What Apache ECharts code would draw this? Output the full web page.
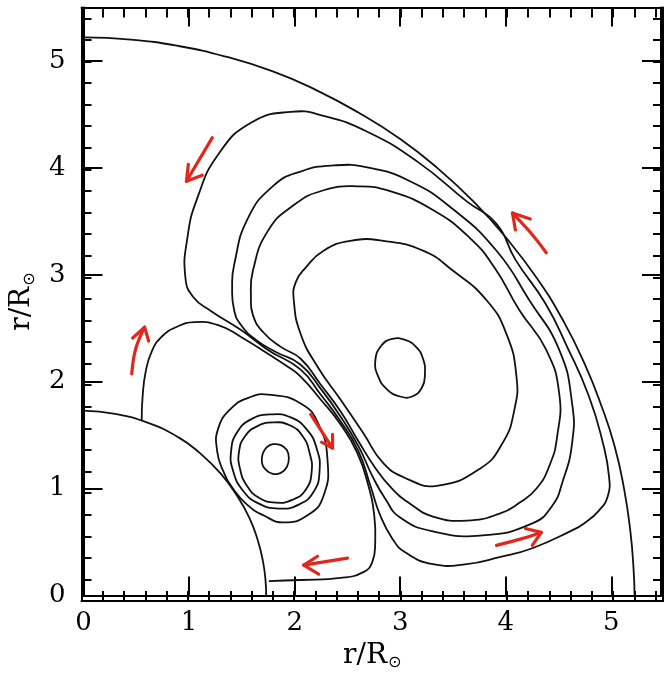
<!DOCTYPE html>
<html>
<head>
<meta charset="utf-8">
<script src="https://cdn.jsdelivr.net/npm/echarts@6/dist/echarts.min.js"></script>
<style>
  html, body { margin: 0; padding: 0; background: #fff; }
  #chart { width: 664px; height: 676px; }
</style>
</head>
<body>
<div id="chart"></div>
<script>
// Axis extents and labels (radius in solar radii)
const xRange = [0, 5.47];
const yRange = [0, 5.5];
const majorTickLabels = ['0', '1', '2', '3', '4', '5'];
const axisTitle = 'r/R';
const solarSymbol = '\u2299';

// Outer boundary of the flow domain
const outerBoundary = [
  [0, 5.22], [0.45, 5.20], [0.9, 5.14], [1.35, 5.04], [1.8, 4.90], [2.2, 4.73],
  [2.6, 4.52], [3.0, 4.27], [3.35, 4.00], [3.7, 3.68], [4.0, 3.35], [4.3, 2.96],
  [4.55, 2.56], [4.75, 2.16], [4.9, 1.79], [5.03, 1.40], [5.12, 1.00], [5.18, 0.60],
  [5.21, 0.25], [5.22, 0]
];

// Stellar surface
const stellarSurface = [
  [0, 1.73], [0.3, 1.70], [0.6, 1.62], [0.9, 1.48], [1.1, 1.335], [1.3, 1.14],
  [1.45, 0.94], [1.57, 0.73], [1.65, 0.52], [1.7, 0.32], [1.725, 0.13], [1.73, 0]
];

// Main cell: closed streamlines, innermost first
const mainCore = [
  [2.924, 2.400], [3.046, 2.391], [3.150, 2.326], [3.216, 2.215], [3.234, 2.076],
  [3.206, 1.946], [3.112, 1.862], [2.999, 1.862], [2.877, 1.927], [2.792, 2.048],
  [2.764, 2.197], [2.820, 2.336]
];
const mainLoop2 = [
  [1.992, 2.762], [2.057, 2.447], [2.217, 2.140], [2.434, 1.834], [2.651, 1.519],
  [2.839, 1.240], [3.065, 1.092], [3.347, 1.027], [3.752, 1.185], [3.969, 1.426],
  [4.082, 1.742], [4.101, 2.049], [4.006, 2.447], [3.818, 2.762], [3.498, 3.040],
  [3.216, 3.226], [2.839, 3.318], [2.528, 3.318], [2.274, 3.226], [2.105, 3.068],
  [2.010, 2.929]
];
const mainLoop3 = [
  [2.274, 3.791], [2.594, 3.828], [2.905, 3.782], [3.310, 3.606], [3.658, 3.346],
  [3.894, 3.066], [4.129, 2.669], [4.383, 2.298], [4.506, 1.890], [4.487, 1.491],
  [4.412, 1.212], [4.289, 0.999], [4.129, 0.868], [3.941, 0.766], [3.630, 0.701],
  [3.310, 0.739], [3.093, 0.860], [2.924, 0.999], [2.764, 1.194], [2.604, 1.444],
  [2.434, 1.723], [2.246, 1.974], [2.057, 2.215], [1.869, 2.326], [1.700, 2.465],
  [1.605, 2.623], [1.586, 2.790], [1.605, 3.040], [1.747, 3.411], [1.992, 3.652]
];
const mainLoop4 = [
  [2.057, 3.966], [2.368, 4.023], [2.688, 4.004], [3.093, 3.875], [3.498, 3.615],
  [3.912, 3.225], [4.223, 2.762], [4.506, 2.298], [4.628, 1.797], [4.628, 1.426],
  [4.534, 1.054], [4.440, 0.841], [4.251, 0.675], [3.781, 0.563], [3.310, 0.600],
  [2.999, 0.730], [2.858, 0.906], [2.735, 1.120], [2.604, 1.398], [2.434, 1.676],
  [2.246, 1.936], [2.057, 2.159], [1.822, 2.279], [1.634, 2.391], [1.492, 2.530],
  [1.427, 2.669], [1.408, 2.882], [1.427, 3.095], [1.558, 3.531], [1.803, 3.837]
];
const mainLoop5 = [
  [1.963, 4.524], [2.274, 4.487], [2.688, 4.338], [3.159, 4.061], [3.630, 3.687],
  [3.912, 3.476], [4.091, 3.142], [4.374, 2.734], [4.581, 2.327], [4.788, 1.862],
  [4.920, 1.426], [4.977, 1.120], [4.967, 0.934], [4.882, 0.795], [4.741, 0.675],
  [4.628, 0.610], [4.251, 0.443], [3.941, 0.359], [3.630, 0.294], [3.310, 0.294],
  [3.046, 0.405], [2.924, 0.535], [2.811, 0.749], [2.717, 1.029], [2.604, 1.352],
  [2.434, 1.631], [2.246, 1.881], [2.057, 2.113], [1.747, 2.298], [1.492, 2.483],
  [1.210, 2.660], [1.041, 2.790], [0.965, 2.975], [0.984, 3.346], [1.078, 3.717],
  [1.276, 4.125], [1.586, 4.422]
];

// Open streamline leaving and re-entering the surface
const surfaceStream = [
  [0.551, 1.639], [0.560, 1.862], [0.589, 2.094], [0.645, 2.280], [0.739, 2.419],
  [0.880, 2.512], [1.050, 2.558], [1.276, 2.530], [1.492, 2.419], [1.747, 2.261],
  [1.935, 2.141], [2.057, 2.048], [2.246, 1.834], [2.434, 1.602], [2.594, 1.333],
  [2.698, 1.029], [2.754, 0.749], [2.763, 0.499], [2.735, 0.313], [2.651, 0.220],
  [2.434, 0.165], [2.057, 0.146], [1.756, 0.136]
];

// Secondary cell: closed streamlines, innermost first
const subCore = [
  [1.794, 1.416], [1.869, 1.407], [1.926, 1.361], [1.945, 1.287], [1.926, 1.203],
  [1.869, 1.148], [1.794, 1.138], [1.728, 1.175], [1.690, 1.249], [1.700, 1.333],
  [1.737, 1.389]
];
const subLoop2 = [
  [1.794, 1.620], [1.954, 1.593], [2.076, 1.491], [2.142, 1.333], [2.161, 1.157],
  [2.105, 0.990], [1.982, 0.897], [1.822, 0.869], [1.662, 0.915], [1.549, 1.026],
  [1.483, 1.184], [1.474, 1.351], [1.530, 1.491], [1.643, 1.583]
];
const subLoop3 = [
  [1.775, 1.695], [1.963, 1.667], [2.114, 1.555], [2.208, 1.379], [2.236, 1.166],
  [2.180, 0.971], [2.039, 0.851], [1.850, 0.814], [1.662, 0.860], [1.511, 0.981],
  [1.417, 1.166], [1.398, 1.351], [1.455, 1.527], [1.586, 1.648]
];
const subLoop4 = [
  [1.747, 1.880], [2.057, 1.797], [2.227, 1.602], [2.312, 1.258], [2.274, 0.934],
  [2.133, 0.758], [1.897, 0.684], [1.709, 0.749], [1.549, 0.851], [1.417, 0.999],
  [1.323, 1.166], [1.266, 1.351], [1.276, 1.564], [1.398, 1.750], [1.568, 1.852]
];

// Flow-direction arrows: shaft from tail to head, then the two barbs
const flowArrows = [
  { shaft: [[1.220, 4.283], [0.975, 3.875]], barbs: [[0.993, 4.033], [1.125, 3.931]] },
  { shaft: [[4.383, 3.207], [4.230, 3.400], [4.063, 3.578]], barbs: [[4.091, 3.420], [4.232, 3.522]] },
  { shaft: [[0.457, 2.074], [0.494, 2.306], [0.579, 2.511]], barbs: [[0.466, 2.409], [0.617, 2.381]] },
  { shaft: [[2.152, 1.695], [2.359, 1.379]], barbs: [[2.255, 1.435], [2.359, 1.509]] },
  { shaft: [[2.500, 0.350], [2.086, 0.285]], barbs: [[2.217, 0.368], [2.227, 0.201]] },
  { shaft: [[3.912, 0.470], [4.129, 0.526], [4.336, 0.591]], barbs: [[4.185, 0.628], [4.251, 0.470]] }
];

const INK = '#111';
const ARROW_RED = '#e3261c';

// A streamline is drawn as one smooth path through its points,
// each point placed by the cartesian axes (api.coord).
function streamline(points, closed) {
  return {
    type: 'custom',
    coordinateSystem: 'cartesian2d',
    xAxisIndex: 0, yAxisIndex: 0,
    data: points,
    silent: true, z: 3,
    renderItem: function (params, api) {
      if (params.dataIndex !== 0) return null;
      return {
        type: closed ? 'polygon' : 'polyline',
        shape: { points: points.map(function (p) { return api.coord(p); }), smooth: 0.5 },
        style: { fill: 'none', stroke: INK, lineWidth: 1.8 }
      };
    }
  };
}

function arrowSeries(a) {
  const head = a.shaft[a.shaft.length - 1];
  return {
    type: 'custom',
    coordinateSystem: 'cartesian2d',
    xAxisIndex: 0, yAxisIndex: 0,
    data: a.shaft,
    silent: true, z: 4,
    renderItem: function (params, api) {
      if (params.dataIndex !== 0) return null;
      const st = { fill: 'none', stroke: ARROW_RED, lineWidth: 3.2, lineCap: 'round', lineJoin: 'round' };
      return {
        type: 'group',
        children: [
          { type: 'polyline', shape: { points: a.shaft.map(function (p) { return api.coord(p); }), smooth: 0.4 }, style: st },
          { type: 'polyline', shape: { points: [a.barbs[0], head, a.barbs[1]].map(function (p) { return api.coord(p); }) }, style: st }
        ]
      };
    }
  };
}

const titleRich = {
  a: { fontFamily: 'DejaVu Serif', fontSize: 28, color: '#000' },
  b: { fontFamily: 'DejaVu Sans', fontSize: 16, color: '#000', padding: [15, 0, 0, 1] }
};
const titleText = '{a|' + axisTitle + '}{b|' + solarSymbol + '}';

const labelStyle = {
  fontFamily: 'DejaVu Serif', fontSize: 26, color: '#000',
  formatter: function (v) {
    const i = Math.round(v);
    return Math.abs(v - i) < 1e-6 && majorTickLabels[i] !== undefined ? majorTickLabels[i] : '';
  }
};

function makeAxis(range, gridIndex, position, interval, tickLen, labels, extra) {
  return Object.assign({
    type: 'value', gridIndex: gridIndex, position: position,
    min: range[0], max: range[1], interval: interval,
    axisLine: { show: true, onZero: false, lineStyle: { color: '#000', width: 2 } },
    axisTick: { show: true, inside: true, length: tickLen, lineStyle: { color: '#000', width: 2 } },
    axisLabel: labels ? labels : { show: false },
    splitLine: { show: false }
  }, extra || {});
}

const gridBox = { left: 81.5, right: 1, top: 7.5, bottom: 75 };

const option = {
  animation: false,
  backgroundColor: '#fff',
  grid: [Object.assign({}, gridBox), Object.assign({}, gridBox)],
  xAxis: [
    makeAxis(xRange, 0, 'bottom', 1, 19, Object.assign({ margin: 15 }, labelStyle), {
      name: titleText, nameLocation: 'middle', nameGap: 38,
      nameTextStyle: { rich: titleRich }
    }),
    makeAxis(xRange, 0, 'top', 1, 19, null),
    makeAxis(xRange, 1, 'bottom', 0.2, 10, null),
    makeAxis(xRange, 1, 'top', 0.2, 10, null)
  ],
  yAxis: [
    makeAxis(yRange, 0, 'left', 1, 19, Object.assign({ margin: 18 }, labelStyle), {
      name: titleText, nameLocation: 'middle', nameGap: 46, nameRotate: 90,
      nameTextStyle: { rich: titleRich }
    }),
    makeAxis(yRange, 0, 'right', 1, 19, null),
    makeAxis(yRange, 1, 'left', 0.2, 10, null),
    makeAxis(yRange, 1, 'right', 0.2, 10, null)
  ],
  series: [
    streamline(outerBoundary, false),
    streamline(stellarSurface, false),
    streamline(mainCore, true),
    streamline(mainLoop2, true),
    streamline(mainLoop3, true),
    streamline(mainLoop4, true),
    streamline(mainLoop5, true),
    streamline(surfaceStream, false),
    streamline(subCore, true),
    streamline(subLoop2, true),
    streamline(subLoop3, true),
    streamline(subLoop4, true)
  ].concat(flowArrows.map(arrowSeries))
};

const chart = echarts.init(document.getElementById('chart'), null, { renderer: 'canvas' });
chart.setOption(option);
</script>
</body>
</html>
